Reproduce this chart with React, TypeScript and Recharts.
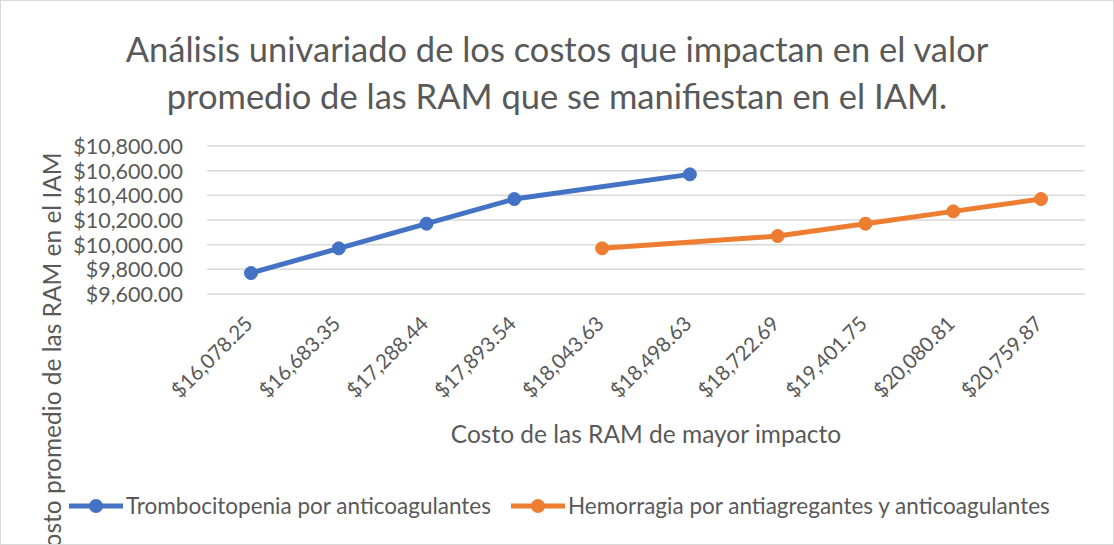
import React from 'react';
import { LineChart, Line, XAxis, YAxis, CartesianGrid } from 'recharts';

const categories = [
  '$16,078.25', '$16,683.35', '$17,288.44', '$17,893.54', '$18,043.63',
  '$18,498.63', '$18,722.69', '$19,401.75', '$20,080.81', '$20,759.87',
];
const trombocitopenia = [9770, 9970, 10170, 10370, null, 10570, null, null, null, null];
const hemorragia = [null, null, null, null, 9970, null, 10070, 10170, 10270, 10370];
const yTicks = [9600, 9800, 10000, 10200, 10400, 10600, 10800];

const seriesNames = ['Trombocitopenia por anticoagulantes', 'Hemorragia por antiagregantes y anticoagulantes'];
const BLUE = '#4472C4';
const ORANGE = '#ED7D31';
const TEXT = '#595959';
const FONT = 'Lato, "Noto Sans", sans-serif';

const data = categories.map((c, i) => ({ name: c, trombo: trombocitopenia[i], hemo: hemorragia[i] }));

const money = (v: number) =>
  '$' + v.toLocaleString('en-US', { minimumFractionDigits: 2, maximumFractionDigits: 2 });

const YTick: React.FC<any> = ({ x, y, payload }) => (
  <text x={x - 16} y={y} dy={8} textAnchor="end" fill={TEXT} fontSize={21.5} fontFamily={FONT}>
    {money(payload.value)}
  </text>
);

const XTick: React.FC<any> = ({ x, y, payload }) => (
  <g transform={`translate(${x + 3},${y + 23})`}>
    <text textAnchor="end" fill={TEXT} fontSize={20.5} fontFamily={FONT} transform="rotate(-45)">
      {payload.value}
    </text>
  </g>
);

const LegendBlock: React.FC = () => {
  const items = [
    { name: seriesNames[0], color: BLUE, x: 69 },
    { name: seriesNames[1], color: ORANGE, x: 511 },
  ];
  return (
    <svg width={1114} height={40} style={{ position: 'absolute', left: -1, top: 485 }}>
      {items.map((it) => (
        <g key={it.name}>
          <line x1={it.x} x2={it.x + 54} y1={20} y2={20} stroke={it.color} strokeWidth={5} />
          <circle cx={it.x + 27} cy={20} r={7} fill={it.color} />
          <text x={it.x + 57} y={28} fill={TEXT} fontSize={22.5} fontFamily={FONT}>
            {it.name}
          </text>
        </g>
      ))}
    </svg>
  );
};

export default function App() {
  return (
    <div
      style={{
        position: 'fixed', left: 0, top: 0, width: 1112, height: 543,
        border: '1px solid #D9D9D9', background: '#fff', overflow: 'hidden',
      }}
    >
      <div
        style={{
          position: 'absolute', top: 24, left: -1, width: 1114, textAlign: 'center',
          fontFamily: FONT, fontSize: 34.5, lineHeight: '47px', color: TEXT,
        }}
      >
        Análisis univariado de los costos que impactan en el valor
        <br />
        promedio de las RAM que se manifiestan en el IAM.
      </div>
      <div style={{ position: 'absolute', left: -1, top: -1 }}>
        <LineChart width={1114} height={545} data={data} margin={{ top: 146, right: 29, bottom: 0, left: 0 }}>
          <CartesianGrid vertical={false} stroke="#D9D9D9" strokeWidth={1.5} />
          <XAxis
            dataKey="name"
            height={251}
            axisLine={false}
            tickLine={false}
            interval={0}
            padding={{ left: 44, right: 44 }}
            tick={<XTick />}
            label={({ viewBox }: any) => (
              <text
                x={(viewBox?.x ?? 207) + (viewBox?.width ?? 878) / 2}
                y={(viewBox?.y ?? 294) + 149}
                textAnchor="middle"
                fill={TEXT}
                fontSize={24.5}
                fontFamily={FONT}
              >
                Costo de las RAM de mayor impacto
              </text>
            )}
          />
          <YAxis
            width={207}
            domain={[9600, 10800]}
            ticks={yTicks}
            interval={0}
            axisLine={false}
            tickLine={false}
            tick={<YTick />}
            label={({ viewBox }: any) => (
              <text
                transform={`translate(61,${(viewBox?.y ?? 146) + 212}) rotate(-90)`}
                textAnchor="middle"
                fill={TEXT}
                fontSize={24.5}
                fontFamily={FONT}
              >
                Costo promedio de las RAM en el IAM
              </text>
            )}
          />
          <Line
            dataKey="trombo"
            name={seriesNames[0]}
            stroke={BLUE}
            strokeWidth={5}
            connectNulls
            dot={{ r: 6.5, fill: BLUE, stroke: BLUE, strokeWidth: 1 }}
            isAnimationActive={false}
          />
          <Line
            dataKey="hemo"
            name={seriesNames[1]}
            stroke={ORANGE}
            strokeWidth={5}
            connectNulls
            dot={{ r: 6.5, fill: ORANGE, stroke: ORANGE, strokeWidth: 1 }}
            isAnimationActive={false}
          />
        </LineChart>
      </div>
      <LegendBlock />
    </div>
  );
}
